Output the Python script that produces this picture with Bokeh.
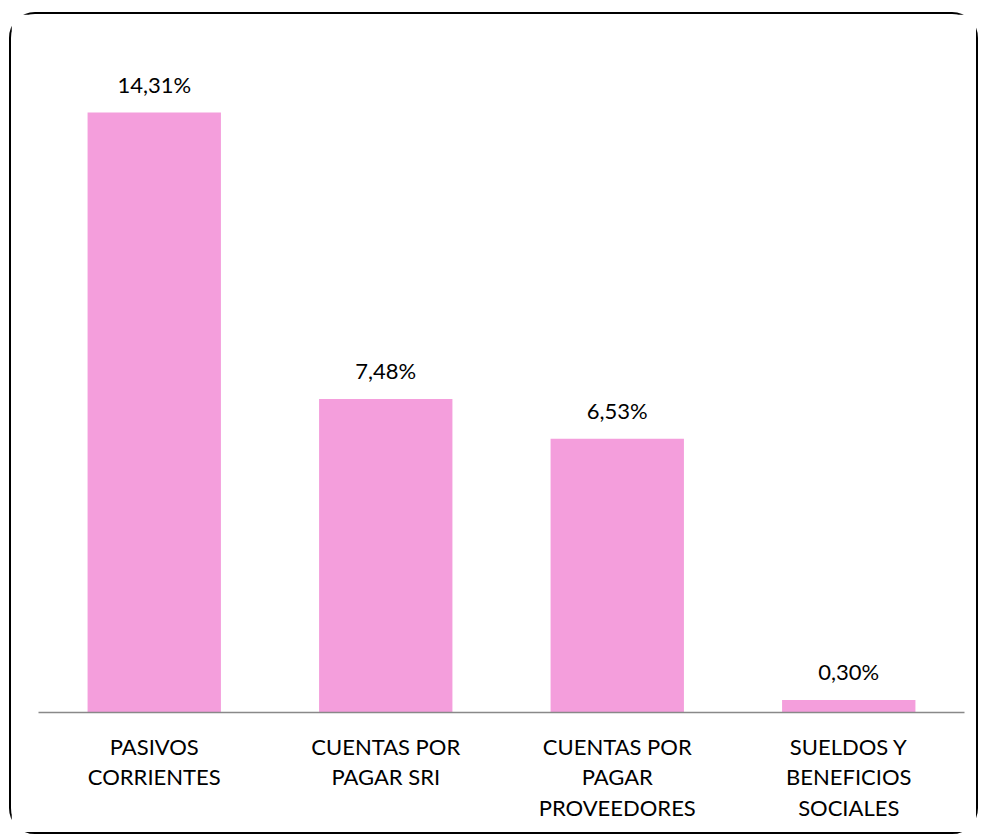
from bokeh.plotting import figure
from bokeh.models import ColumnDataSource, FactorRange, Range1d, LabelSet
from bokeh.core.properties import value
from bokeh.embed import file_html
from bokeh.resources import INLINE

categories = ["PASIVOS\nCORRIENTES", "CUENTAS POR\nPAGAR SRI",
              "CUENTAS POR\nPAGAR\nPROVEEDORES", "SUELDOS Y\nBENEFICIOS\nSOCIALES"]
values = [14.31, 7.48, 6.53, 0.30]
value_labels = ["14,31%", "7,48%", "6,53%", "0,30%"]

FONT = "Lato"
W, H = 969, 822

src = ColumnDataSource(dict(cat=categories, val=values, lab=value_labels))

p = figure(width=W, height=H, output_backend="svg", toolbar_location=None,
           x_range=FactorRange(*categories, range_padding=0),
           y_range=Range1d(0, 16.03),
           min_border_left=27, min_border_right=16, min_border_top=26, min_border_bottom=124,
           styles={"border": "2px solid #000000", "border-radius": "26px",
                   "margin-left": "9px", "margin-top": "12px"})

p.vbar(x="cat", top="val", width=0.576, source=src, fill_color="#F49EDC", line_color=None)

p.add_layout(LabelSet(x="cat", y="val", text="lab", source=src, text_align="center",
                      text_baseline="alphabetic", y_offset=20, text_font=value(FONT),
                      text_font_size="22px", text_color="#000000"))

p.yaxis.visible = False
p.ygrid.visible = False
p.xgrid.visible = False
p.outline_line_color = None

ax = p.xaxis[0]
ax.axis_line_color = "#898989"
ax.axis_line_width = 1.5
ax.major_tick_line_color = None
ax.minor_tick_line_color = None
ax.major_label_text_font = FONT
ax.major_label_text_font_size = "22px"
ax.major_label_text_color = "#000000"
ax.major_label_text_line_height = 1.14
ax.major_label_standoff = 14

open("out.html", "w").write(file_html(p, INLINE))
